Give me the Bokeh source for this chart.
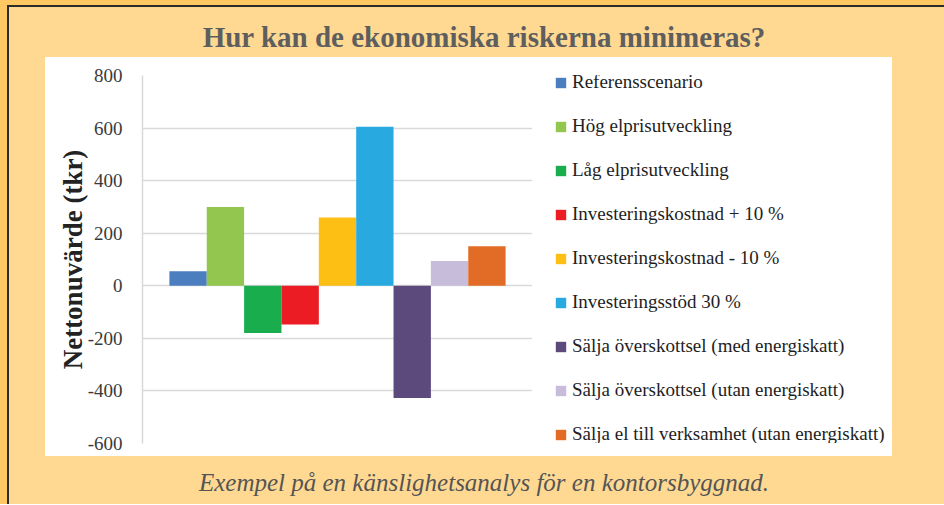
from bokeh.plotting import figure
from bokeh.models import (ColumnDataSource, FactorRange, Legend, LegendItem,
                          FixedTicker, Div, Range1d)
from bokeh.layouts import column, row
from bokeh.embed import file_html
from bokeh.resources import INLINE

# ---- data ----
scenarios = [
    "Referensscenario",
    "Hög elprisutveckling",
    "Låg elprisutveckling",
    "Investeringskostnad + 10 %",
    "Investeringskostnad - 10 %",
    "Investeringsstöd 30 %",
    "Sälja överskottsel (med energiskatt)",
    "Sälja överskottsel (utan energiskatt)",
    "Sälja el till verksamhet (utan energiskatt)",
]
values = [55, 300, -180, -147, 260, 605, -427, 94, 150]
colors = ["#4A7EBF", "#92C64E", "#19AD4E", "#EC1C24", "#FDBF14",
          "#28AAE1", "#5D4A7C", "#C7BDDB", "#E26B25"]
y_ticks = [-600, -400, -200, 0, 200, 400, 600, 800]
y_tick_labels = {t: str(t) for t in y_ticks}

title_text = "Hur kan de ekonomiska riskerna minimeras?"
caption_text = "Exempel på en känslighetsanalys för en kontorsbyggnad."
y_label = "Nettonuvärde (tkr)"

SERIF = "Liberation Serif"
PEACH = "#FFD992"
ORANGE = "#FFC862"

# ---- chart ----
p = figure(
    x_range=FactorRange(factors=scenarios, range_padding=0.16),
    y_range=(-600, 800),
    frame_width=390, frame_height=368,
    min_border_left=97, min_border_right=0,
    min_border_top=18, min_border_bottom=13,
    output_backend="svg", toolbar_location=None,
    background_fill_color="white", border_fill_color="white",
    outline_line_color=None,
)

for name, v, c in zip(scenarios, values, colors):
    src = ColumnDataSource(dict(x=[name], top=[v]))
    p.vbar(x="x", top="top", bottom=0, width=1.0, source=src,
           fill_color=c, line_color=None)

p.xaxis.visible = False
p.xgrid.grid_line_color = None
p.ygrid.grid_line_color = "#D9D9D9"
p.ygrid.grid_line_width = 1.5

yax = p.yaxis[0]
yax.ticker = FixedTicker(ticks=y_ticks)
yax.major_label_overrides = y_tick_labels
yax.axis_line_color = "#D9D9D9"
yax.axis_line_width = 1.5
yax.major_tick_line_color = None
yax.minor_tick_line_color = None
yax.major_label_standoff = 14
yax.major_label_text_font = SERIF
yax.major_label_text_font_size = "19px"
yax.major_label_text_color = "#3A3A3A"
yax.axis_label = y_label
yax.axis_label_text_font = SERIF
yax.axis_label_text_font_size = "27px"
yax.axis_label_text_font_style = "bold"
yax.axis_label_text_color = "#222222"
yax.axis_label_standoff = -3

# ---- legend panel: the same series, hidden, shown only as legend ----
pl = figure(
    width=360, height=399,
    x_range=FactorRange(factors=scenarios), y_range=Range1d(-600, 800),
    x_axis_type=None, y_axis_type=None,
    min_border_left=0, min_border_right=0,
    min_border_top=0, min_border_bottom=0,
    output_backend="svg", toolbar_location=None,
    background_fill_color="white", border_fill_color="white",
    outline_line_color=None,
)
pl.grid.visible = False

items = []
for name, v, c in zip(scenarios, values, colors):
    src = ColumnDataSource(dict(x=[name], top=[v]))
    r = pl.vbar(x="x", top="top", bottom=0, width=1.0, source=src,
                fill_color=c, line_color=None, visible=False)
    items.append(LegendItem(label=name, renderers=[r]))

legend = Legend(items=items, location=(22, -2))
legend.border_line_color = None
legend.background_fill_alpha = 0
legend.inactive_fill_alpha = 0
legend.margin = 0
legend.padding = 0
legend.glyph_width = 13
legend.glyph_height = 13
legend.label_height = 13
legend.label_standoff = 5
legend.spacing = 22
legend.label_text_font = SERIF
legend.label_text_font_size = "19px"
legend.label_text_color = "#1E1E1E"
pl.add_layout(legend, "center")

chart_row = row(p, pl, spacing=0, margin=(0, 0, 0, 36),
                styles={"background-color": "white"})

title_div = Div(
    text=(f'<div style="box-sizing:border-box;width:935px;padding-left:15px;'
          f'padding-top:13px;text-align:center;'
          f'font-family:\'{SERIF}\';font-weight:bold;font-size:29px;'
          f'line-height:34px;color:#5E5E5E;">{title_text}</div>'),
    width=935, height=50, margin=(0, 0, 0, 0),
)
caption_div = Div(
    text=(f'<div style="box-sizing:border-box;width:935px;padding-left:15px;'
          f'padding-top:12px;text-align:center;'
          f'font-family:\'{SERIF}\';font-style:italic;font-size:25px;'
          f'line-height:30px;color:#555555;">{caption_text}</div>'),
    width=935, height=48, margin=(0, 0, 0, 0),
)

inner = column(
    title_div, chart_row, caption_div, spacing=0, margin=(5, 0, 0, 7),
    styles={"background-color": PEACH,
            "border-left": "2px solid #2B2B2B",
            "border-top": "2px solid #2B2B2B"},
)
layout = column(inner, spacing=0, styles={"background-color": ORANGE})

open("out.html", "w").write(file_html(layout, INLINE))
